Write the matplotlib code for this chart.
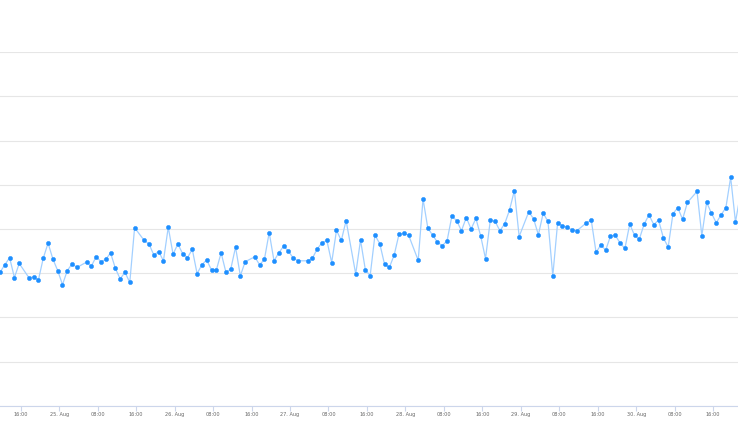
import datetime as dt
import matplotlib
matplotlib.use("Agg")
import matplotlib.pyplot as plt
import matplotlib.dates as mdates
from matplotlib.ticker import FuncFormatter

# ---- data (hourly samples; None = missing sample) ----
start_time = dt.datetime(2024, 8, 24, 11, 40)
values = [
    30.2, 31.9, 33.5, 29.0, 32.2, None, 29.0, 29.1, 28.5, 33.4,
    36.8, 33.2, 30.6, 27.4, 30.6, 32.1, 31.3, None, 32.5, 31.6,
    33.7, 32.6, 33.1, 34.6, 31.1, 28.7, 30.2, 27.9, 40.3, None,
    37.4, 36.6, 34.1, 34.9, 32.8, 40.4, 34.3, 36.6, 34.4, 33.5,
    35.4, 29.9, 31.9, 33.0, 30.7, 30.7, 34.6, 30.2, 30.9, 35.9,
    29.4, 32.6, None, 33.7, 31.9, 33.1, 39.2, 32.8, 34.6, 36.1,
    35.0, 33.4, 32.8, None, 32.8, 33.4, 35.5, 36.9, 37.4, 32.4,
    39.7, 37.4, 41.9, None, 29.8, 37.5, 30.8, 29.4, 38.6, 36.7,
    32.0, 31.3, 34.1, 38.8, 39.0, 38.6, None, 32.9, 46.8, 40.2,
    38.6, 37.0, 36.2, 37.3, 42.9, 41.9, 39.6, 42.6, 40.0, 42.4,
    38.4, 33.3, 42.0, 41.7, 39.6, 41.2, 44.3, 48.7, 38.3, None,
    43.9, 42.3, 38.7, 43.6, 41.7, 29.4, 41.4, 40.7, 40.4, 39.8,
    39.6, None, 41.4, 42.0, 34.7, 36.4, 35.2, 38.4, 38.6, 36.8,
    35.6, 41.1, 38.6, 37.7, 41.1, 43.2, 41.0, 42.0, 38.0, 35.9,
    43.5, 44.8, 42.2, 46.0, None, 48.5, 38.5, 46.0, 43.6, 41.4,
    43.2, 44.8, 51.7, 41.6, 47.7,
]
y_ticks = [0, 10, 20, 30, 40, 50, 60, 70, 80]

times = [start_time + dt.timedelta(hours=i) for i, v in enumerate(values) if v is not None]
vals = [v for v in values if v is not None]

# ---- figure ----
W, H = 738, 434
fig = plt.figure(figsize=(W / 100, H / 100), dpi=100)
ax = fig.add_axes([0, 1 - 405.7 / H, 1, (405.7 - 52.3) / H])

ax.plot(times, vals, color="#a3d0ff", linewidth=0.9, zorder=3, clip_on=False)
ax.plot(times, vals, linestyle="none", marker="o", markersize=3.1,
        markerfacecolor="#1e8fff", markeredgecolor="#1e8fff",
        markeredgewidth=0.3, zorder=4, clip_on=False)

px_per_hour = 4.807
ax.set_xlim(start_time, start_time + dt.timedelta(hours=W / px_per_hour))
ax.set_ylim(y_ticks[0], y_ticks[-1])
ax.set_yticks(y_ticks)
ax.yaxis.grid(True, color="#e6e6e6", linewidth=0.8)
ax.set_axisbelow(True)
ax.tick_params(axis="y", left=False, labelleft=False)

ax.xaxis.set_major_locator(mdates.HourLocator(byhour=[0, 8, 16]))


def fmt(x, pos):
    d = mdates.num2date(x)
    if d.hour == 0:
        return f"{d.day}. {d.strftime('%b')}"
    return d.strftime("%H:%M")


ax.xaxis.set_major_formatter(FuncFormatter(fmt))
ax.tick_params(axis="x", length=3.6, width=0.8, color="#ccd6eb",
               labelsize=3.6, labelcolor="#666666", pad=0.8)

for s in ["left", "right", "top"]:
    ax.spines[s].set_visible(False)
ax.spines["bottom"].set_color("#ccd6eb")
ax.spines["bottom"].set_linewidth(0.8)

fig.savefig("out.png", dpi=100, facecolor="white")
